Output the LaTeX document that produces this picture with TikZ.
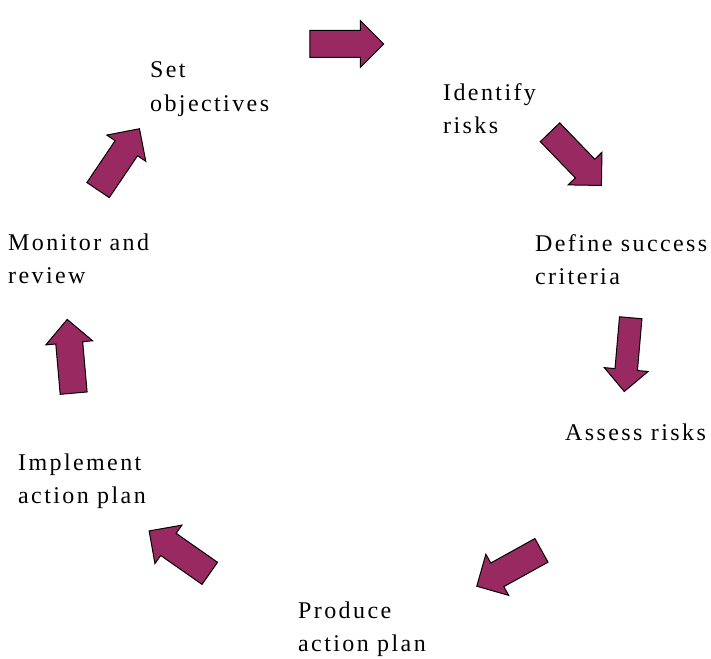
\documentclass[tikz,border=0pt]{standalone}
\usepackage{fontspec}
\setmainfont{Liberation Serif}[LetterSpace=10]
\usetikzlibrary{shapes.arrows}
\definecolor{plum}{RGB}{153,41,97}

\begin{document}
\begin{tikzpicture}[
        x=1pt, y=-1pt,
        every node/.style={align=left, font=\fontsize{24}{33}\selectfont, inner sep=0pt},
        cyclearrow/.style={single arrow, draw=black, fill=plum, line width=1pt,
            inner xsep=0pt, inner ysep=13pt,
            minimum height=74pt, minimum width=46pt, single arrow head extend=10pt}
    ]
      \useasboundingbox (0,0) rectangle (711,658);

      % steps of the cycle (base = last line)
      \node[anchor=base west] (obj) at (150,111) {Set\\objectives};
      \node[anchor=base west] (ident) at (443,133) {Identify\\risks};
      \node[anchor=base west] (crit) at (535,284) {Define success\\criteria};
      \node[anchor=base west] (assess) at (565,440) {Assess risks};
      \node[anchor=base west] (plan) at (298,651) {Produce\\action plan};
      \node[anchor=base west] (impl) at (18,503) {Implement\\action plan};
      \node[anchor=base west] (mon) at (8,283) {Monitor and\\review};

      % block arrows between the steps
      \node[cyclearrow, rotate=0] (a1) at (340,44) {};
      \node[cyclearrow, rotate=-46] (a2) at (571,154) {};
      \node[cyclearrow, rotate=-95, inner ysep=10pt, minimum width=44pt] (a3) at (628,349) {};
      \node[cyclearrow, rotate=209] (a4) at (515,565) {};
      \node[cyclearrow, rotate=145] (a5) at (185,556) {};
      \node[cyclearrow, rotate=95] (a6) at (71,363) {};
      \node[cyclearrow, rotate=56] (a7) at (115,165) {};
    \end{tikzpicture}
\end{document}
